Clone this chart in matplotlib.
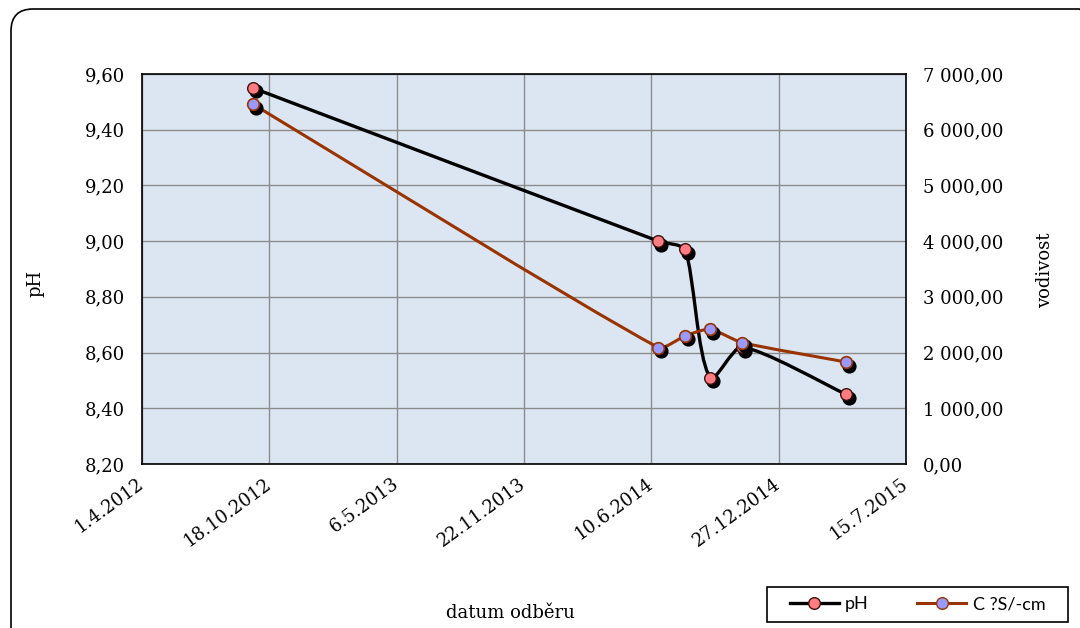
import numpy as np
import datetime as dt
import matplotlib
matplotlib.use('Agg')
import matplotlib.pyplot as plt
import matplotlib.dates as mdates
from matplotlib.path import Path
from matplotlib.patches import PathPatch, FancyBboxPatch, Rectangle
from matplotlib.lines import Line2D
from matplotlib.transforms import offset_copy, IdentityTransform
from matplotlib.ticker import FuncFormatter, FixedLocator

# ---- data ----
sample_dates = ['22.9.2012', '21.6.2014', '2.8.2014', '10.9.2014', '30.10.2014', '12.4.2015']
ph_values = [9.55, 9.00, 8.97, 8.51, 8.62, 8.45]
cond_values = [6460, 2090, 2300, 2420, 2180, 1830]
x_tick_labels = ['1.4.2012', '18.10.2012', '6.5.2013', '22.11.2013',
                 '10.6.2014', '27.12.2014', '15.7.2015']
ph_ticks = [8.20, 8.40, 8.60, 8.80, 9.00, 9.20, 9.40, 9.60]
cond_ticks = [0, 1000, 2000, 3000, 4000, 5000, 6000, 7000]
series_names = ['pH', 'C ?S/-cm']

SERIF = ['DejaVu Serif']
SANS = ['Lato', 'DejaVu Sans']

def to_num(s):
    return mdates.date2num(dt.datetime.strptime(s, '%d.%m.%Y'))

xd = np.array([to_num(s) for s in sample_dates])
xt = np.array([to_num(s) for s in x_tick_labels])

def smooth_path(axis, x, y, k=0.2):
    """Smoothed (Excel-like) curve through the points, built in display space."""
    tr = axis.transData
    P = tr.transform(np.column_stack([x, y]))
    n = len(P)
    tang = []
    for i in range(n):
        if i == 0:
            d = P[1] - P[0]
        elif i == n - 1:
            d = P[-1] - P[-2]
        else:
            d = P[i + 1] - P[i - 1]
        nd = np.linalg.norm(d)
        tang.append(d / nd if nd > 0 else d)
    verts = [P[0]]
    codes = [Path.MOVETO]
    for i in range(n - 1):
        L = np.linalg.norm(P[i + 1] - P[i])
        c1 = P[i] + tang[i] * L * k
        c2 = P[i + 1] - tang[i + 1] * L * k
        verts += [c1, c2, P[i + 1]]
        codes += [Path.CURVE4] * 3
    V = tr.inverted().transform(np.array(verts))
    return Path(V, codes)

W, H = 1080, 628
fig = plt.figure(figsize=(W / 100, H / 100), dpi=100)
fig.patch.set_facecolor('white')

# rounded outer frame
frame = FancyBboxPatch((11, -20), 1090, 628 - 9 + 20,
                       boxstyle='round,pad=0,rounding_size=22',
                       transform=IdentityTransform(), facecolor='none',
                       edgecolor='black', linewidth=1.2)
fig.patches.append(frame)

ax = fig.add_axes([142 / W, (H - 464) / H, (906 - 142) / W, (464 - 74) / H])
ax.set_facecolor('#DCE6F2')
ax.set_xlim(xt[0], xt[-1])
ax.set_ylim(ph_ticks[0], ph_ticks[-1])
ax.xaxis.set_major_locator(FixedLocator(xt))
ax.set_xticklabels(x_tick_labels, rotation=36, ha='right', va='center',
                   rotation_mode='anchor', family=SERIF, fontsize=13)
ax.yaxis.set_major_locator(FixedLocator(ph_ticks))
ax.yaxis.set_major_formatter(FuncFormatter(lambda v, p: f"{v:.2f}".replace('.', ',')))
for t in ax.get_yticklabels():
    t.set_family(SERIF); t.set_fontsize(13)
ax.tick_params(length=0, pad=12)
ax.tick_params(axis='x', pad=13)
ax.grid(True, color='#8C8C8C', linewidth=1.0)
ax.set_axisbelow(True)
for s in ax.spines.values():
    s.set_color('black'); s.set_linewidth(1.2)

ax2 = ax.twinx()
ax2.set_ylim(cond_ticks[0], cond_ticks[-1])
ax2.yaxis.set_major_locator(FixedLocator(cond_ticks))
ax2.yaxis.set_major_formatter(FuncFormatter(
    lambda v, p: f"{v:,.2f}".replace(',', ' ').replace('.', ',')))
for t in ax2.get_yticklabels():
    t.set_family(SERIF); t.set_fontsize(13)
ax2.tick_params(length=0, pad=12)
for s in ax2.spines.values():
    s.set_visible(False)

ph_line_c = 'black'
cond_line_c = '#993300'
ph_fc = '#FF7C80'
cond_fc = '#9999FF'
ms = 8.4

# pH series
ax.add_patch(PathPatch(smooth_path(ax, xd, ph_values), fill=False,
                       edgecolor=ph_line_c, linewidth=2.4, zorder=3,
                       capstyle='round', joinstyle='round'))
sh = offset_copy(ax.transData, fig=fig, x=3, y=-3.5, units='dots')
ax.plot(xd, ph_values, linestyle='none', marker='o', ms=ms + 0.8,
        mfc='black', mec='black', transform=sh, zorder=4)
ax.plot(xd, ph_values, linestyle='none', marker='o', ms=ms,
        mfc=ph_fc, mec='#3A1010', mew=1.0, zorder=5)

# conductivity series
ax2.add_patch(PathPatch(smooth_path(ax2, xd, cond_values), fill=False,
                        edgecolor=cond_line_c, linewidth=2.2, zorder=3,
                        capstyle='round', joinstyle='round'))
sh2 = offset_copy(ax2.transData, fig=fig, x=3, y=-3.5, units='dots')
ax2.plot(xd, cond_values, linestyle='none', marker='o', ms=ms + 0.8,
         mfc='black', mec='black', transform=sh2, zorder=4)
ax2.plot(xd, cond_values, linestyle='none', marker='o', ms=ms,
         mfc=cond_fc, mec=cond_line_c, mew=1.2, zorder=5)

# axis titles
fig.text(35 / W, 1 - 283 / H, 'pH', rotation=90, ha='center', va='center',
         family=SERIF, fontsize=13)
fig.text(1045 / W, 1 - 270 / H, 'vodivost', rotation=90, ha='center', va='center',
         family=SERIF, fontsize=13)
fig.text(510 / W, 1 - 613 / H, 'datum odběru', ha='center', va='center',
         family=SERIF, fontsize=13)

# legend box
fig.patches.append(Rectangle((767, H - 622), 1068 - 767, 622 - 587,
                             transform=IdentityTransform(), facecolor='white',
                             edgecolor='black', linewidth=1.2, zorder=5))
handles = [
    Line2D([], [], color=ph_line_c, lw=2.4, marker='o', ms=ms, mfc=ph_fc, mec='#3A1010'),
    Line2D([], [], color=cond_line_c, lw=2.2, marker='o', ms=ms, mfc=cond_fc, mec=cond_line_c),
]
leg = fig.legend(handles, series_names, loc='center',
                 bbox_to_anchor=((767 + 1068) / 2 / W, 1 - 604.5 / H), ncol=2,
                 frameon=False, prop={'family': SANS, 'size': 13},
                 handlelength=2.7, handletextpad=0.35, columnspacing=2.7,
                 borderpad=0, borderaxespad=0)
leg.set_zorder(6)

fig.savefig('out.png', dpi=100, facecolor='white')
